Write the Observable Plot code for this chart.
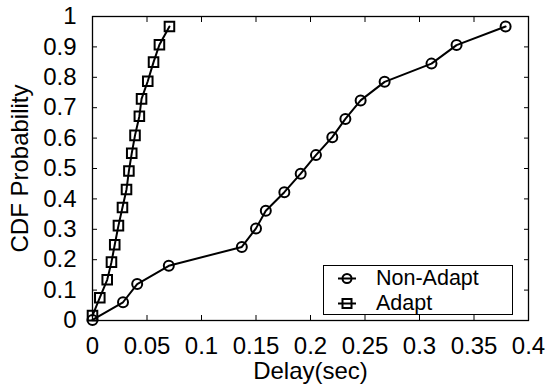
<!DOCTYPE html>
<html>
<head>
<meta charset="utf-8">
<script src="https://cdn.jsdelivr.net/npm/d3@7"></script>
<script src="https://cdn.jsdelivr.net/npm/@observablehq/plot@0.6"></script>
<style>
  body { margin: 0; background: #fff; }
  #wrap { position: relative; width: 547px; height: 386px; font-family: "Liberation Sans", Arial, sans-serif; }
  #legend { position: absolute; left: 323px; top: 265px; width: 188px; height: 48px; border: 1.3px solid #000; background: #fff; font-size: 21.5px; color: #000; }
  .row { position: absolute; left: 0; width: 186px; height: 24px; white-space: nowrap; }
  .row svg { position: absolute; left: 12px; top: 0; }
  .row span { position: absolute; display: block; left: 52px; top: 0; height: 24px; line-height: 24px; }
</style>
</head>
<body>
<div id="wrap"></div>
<script>
const seriesNames = ["Non-Adapt", "Adapt"];
const nonAdaptDelay = [0.000, 0.028, 0.041, 0.070, 0.137, 0.150, 0.159, 0.176, 0.191, 0.205, 0.220, 0.232, 0.246, 0.268, 0.311, 0.334, 0.379];
const nonAdaptProb  = [0.002, 0.060, 0.120, 0.180, 0.242, 0.303, 0.361, 0.422, 0.483, 0.544, 0.603, 0.663, 0.724, 0.785, 0.845, 0.906, 0.967];
const adaptDelay = [0.000, 0.0067, 0.0135, 0.0174, 0.0204, 0.0238, 0.0275, 0.0312, 0.0334, 0.036, 0.039, 0.043, 0.045, 0.0507, 0.056, 0.0614, 0.0706];
const adaptProb  = [0.016, 0.075, 0.134, 0.192, 0.249, 0.312, 0.372, 0.431, 0.492, 0.550, 0.609, 0.672, 0.729, 0.787, 0.850, 0.907, 0.967];
const xTicks = [0, 0.05, 0.1, 0.15, 0.2, 0.25, 0.3, 0.35, 0.4];
const yTicks = [0, 0.1, 0.2, 0.3, 0.4, 0.5, 0.6, 0.7, 0.8, 0.9, 1];

const nonAdapt = nonAdaptDelay.map((x, i) => ({x, y: nonAdaptProb[i]}));
const adapt = adaptDelay.map((x, i) => ({x, y: adaptProb[i]}));
const fmt = d => String(d);

const chart = Plot.plot({
  width: 547,
  height: 386,
  marginLeft: 92,
  marginRight: 19,
  marginTop: 16,
  marginBottom: 66,
  style: {fontFamily: "'Liberation Sans', Arial, sans-serif", fontSize: "24px", color: "#000", background: "#fff"},
  x: {domain: [0, 0.4]},
  y: {domain: [0, 1]},
  marks: [
    Plot.frame({stroke: "#000", strokeWidth: 1.3}),
    Plot.axisX({anchor: "bottom", ticks: xTicks, tickFormat: fmt, tickSize: -5, tickPadding: 21, fontSize: 24, label: "Delay(sec)", labelAnchor: "center", labelOffset: 58, labelArrow: "none"}),
    Plot.axisX({anchor: "top", ticks: xTicks, tickSize: -5, fill: "none", label: null}),
    Plot.axisY({anchor: "left", ticks: yTicks, tickFormat: fmt, tickSize: -5, tickPadding: 21, fontSize: 24, label: "CDF Probability", labelAnchor: "center", labelOffset: 82, labelArrow: "none"}),
    Plot.axisY({anchor: "right", ticks: yTicks, tickSize: -5, fill: "none", label: null}),
    Plot.line(nonAdapt, {x: "x", y: "y", stroke: "#000", strokeWidth: 2}),
    Plot.line(adapt, {x: "x", y: "y", stroke: "#000", strokeWidth: 2}),
    Plot.dot(nonAdapt, {x: "x", y: "y", symbol: "circle", r: 5, stroke: "#000", strokeWidth: 2, fill: "none"}),
    Plot.dot(adapt, {x: "x", y: "y", symbol: "square", r: 5.4, stroke: "#000", strokeWidth: 2, fill: "none"})
  ]
});

const wrap = document.getElementById("wrap");
wrap.appendChild(chart);

const legend = document.createElement("div");
legend.id = "legend";
const symbols = ["circle", "square"];
seriesNames.forEach((name, i) => {
  const row = document.createElement("div");
  row.className = "row";
  row.style.top = (i * 24.8) + "px";
  const svg = d3.create("svg").attr("width", 24).attr("height", 24);
  svg.append("line").attr("x1", 2).attr("x2", 20).attr("y1", 12.5).attr("y2", 12.5).attr("stroke", "#000").attr("stroke-width", 2);
  if (symbols[i] === "circle") {
    svg.append("circle").attr("cx", 11).attr("cy", 12.5).attr("r", 4.5).attr("fill", "none").attr("stroke", "#000").attr("stroke-width", 2);
  } else {
    svg.append("rect").attr("x", 6.5).attr("y", 8).attr("width", 9).attr("height", 9).attr("fill", "none").attr("stroke", "#000").attr("stroke-width", 2);
  }
  row.appendChild(svg.node());
  const span = document.createElement("span");
  span.textContent = name;
  row.appendChild(span);
  legend.appendChild(row);
});
wrap.appendChild(legend);
</script>
</body>
</html>
